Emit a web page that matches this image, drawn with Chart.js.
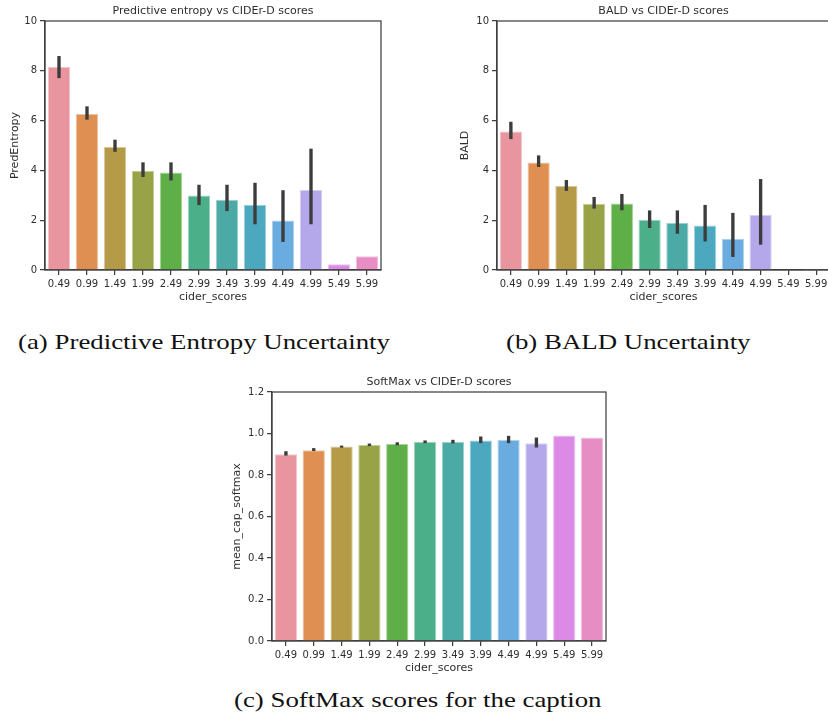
<!DOCTYPE html>
<html><head><meta charset="utf-8">
<script src="https://cdn.jsdelivr.net/npm/chart.js@4"></script>
<style>
html,body{margin:0;padding:0;width:828px;height:717px;overflow:hidden;background:#fff;position:relative}
canvas{position:absolute}
.cap{position:absolute;font-family:"Liberation Serif",serif;font-size:21px;line-height:21px;color:#111;white-space:nowrap;transform-origin:0 0}
</style></head><body>
<canvas id="ca" width="400" height="310" style="left:0;top:0"></canvas>
<canvas id="cb" width="400" height="310" style="left:452px;top:0"></canvas>
<canvas id="cc" width="410" height="309" style="left:210px;top:371px"></canvas>
<div class="cap" id="capa">(a) Predictive Entropy Uncertainty</div>
<div class="cap" id="capb">(b) BALD Uncertainty</div>
<div class="cap" id="capc">(c) SoftMax scores for the caption</div>
<script>
// ---- data ----
const ciderScores = ['0.49','0.99','1.49','1.99','2.49','2.99','3.49','3.99','4.49','4.99','5.49','5.99'];
const predEntropy     = [8.15, 6.27, 4.94, 3.99, 3.92, 2.99, 2.82, 2.62, 1.99, 3.21, 0.23, 0.55];
const predEntropyLow  = [7.72, 6.05, 4.76, 3.75, 3.61, 2.62, 2.38, 1.85, 1.14, 1.85, null, null];
const predEntropyHigh = [8.58, 6.56, 5.22, 4.31, 4.31, 3.41, 3.41, 3.49, 3.19, 4.86, null, null];
const bald     = [5.56, 4.32, 3.37, 2.66, 2.67, 2.02, 1.89, 1.79, 1.26, 2.21, 0, 0.05];
const baldLow  = [5.27, 4.15, 3.19, 2.48, 2.41, 1.70, 1.47, 1.16, 0.54, 1.03, null, null];
const baldHigh = [5.94, 4.59, 3.60, 2.92, 3.04, 2.38, 2.38, 2.60, 2.28, 3.64, null, null];
const softmax     = [0.900, 0.919, 0.937, 0.945, 0.950, 0.960, 0.960, 0.966, 0.969, 0.953, 0.990, 0.981];
const softmaxLow  = [0.895, 0.917, 0.933, 0.941, 0.945, 0.955, 0.954, 0.955, 0.955, 0.934, null, null];
const softmaxHigh = [0.913, 0.928, 0.940, 0.950, 0.956, 0.965, 0.968, 0.984, 0.987, 0.979, null, null];
const yTicksEntropy = [0, 2, 4, 6, 8, 10];
const yTicksBald = [0, 2, 4, 6, 8, 10];
const yTicksSoftmax = [0.0, 0.2, 0.4, 0.6, 0.8, 1.0, 1.2];

// ---- style ----
const barColors = ['#e8959f','#e08f52','#b59a48','#98a246','#5eaf48','#4baf8a','#4ba9a6','#4ca8be','#6aace0','#b5a8ea','#dd8ae6','#e68dc4'];
function lighten(hex, f){
  const n = parseInt(hex.slice(1),16);
  const r=(n>>16)&255,g=(n>>8)&255,b=n&255;
  const m=c=>Math.round(c+(255-c)*f);
  return 'rgb('+m(r)+','+m(g)+','+m(b)+')';
}
const edgeColors = barColors.map(c=>lighten(c,0.45));
const FONT = '"DejaVu Sans", sans-serif';
const TXT = '#2e2e2e';
const SPINE = '#404040';

const boxPlugin = {
  id:'box',
  afterDraw(chart){
    const {ctx, chartArea:a} = chart;
    ctx.save();
    ctx.strokeStyle = SPINE; ctx.lineWidth = 1.25;
    ctx.strokeRect(a.left, a.top, a.right-a.left, a.bottom-a.top);
    ctx.restore();
  }
};

function makeChart(id, cfg){
  const err = cfg.low.map((l,i)=> l==null ? null : [l, cfg.high[i]]);
  return new Chart(document.getElementById(id), {
    type:'bar',
    data:{
      labels: ciderScores,
      datasets:[
        {data: cfg.values, backgroundColor: barColors, borderColor: edgeColors, borderWidth: 1, borderSkipped: 'start',
         categoryPercentage: 1.0, barPercentage: 0.8, order: 1},
        {data: err, backgroundColor: '#3c3c3c', borderWidth: 0, barThickness: 2.7, grouped: false, order: 0}
      ]
    },
    options:{
      responsive:false, animation:false, devicePixelRatio:1,
      layout:{padding: cfg.pad},
      plugins:{
        legend:{display:false}, tooltip:{enabled:false},
        title:{display:true, text: cfg.title, fullSize:false, color:TXT,
          font:{family:FONT, size:11, weight:'normal', lineHeight:1.2}, padding:{top:4.4, bottom:3.4}}
      },
      scales:{
        x:{
          grid:{display:true, drawOnChartArea:false, drawTicks:true, tickLength:5, color:SPINE, lineWidth:1.25, offset:false},
          border:{display:true, color:SPINE, width:1.25},
          ticks:{color:TXT, font:{family:FONT, size:10}, padding:3, autoSkip:false, maxRotation:0},
          title:{display:true, text:'cider_scores', color:TXT, font:{family:FONT, size:11, lineHeight:1.2}, padding:{top:0,bottom:0}},
          afterFit: s=>{ s.height = 34; }
        },
        y:{
          min: cfg.yTicks[0], max: cfg.yTicks[cfg.yTicks.length-1],
          grid:{display:true, drawOnChartArea:false, drawTicks:true, tickLength:5, color:SPINE, lineWidth:1.25},
          border:{display:true, color:SPINE, width:1.25},
          afterBuildTicks: s=>{ s.ticks = cfg.yTicks.map(v=>({value:v})); },
          ticks:{color:TXT, font:{family:FONT, size:10}, padding:3, callback: v=> cfg.fmt(v)},
          title:{display:true, text: cfg.ylabel, color:TXT, font:{family:FONT, size:11, lineHeight:1.2}, padding:{top:cfg.ylabPad, bottom:0}},
          afterFit: s=>{ s.width = cfg.yWidth; }
        }
      }
    },
    plugins:[boxPlugin]
  });
}

makeChart('ca', {values: predEntropy, low: predEntropyLow, high: predEntropyHigh, yTicks: yTicksEntropy,
  title:'Predictive entropy vs CIDEr-D scores', ylabel:'PredEntropy', fmt: v=>String(Math.round(v)),
  pad:{left:0, right:19, top:0, bottom:6}, yWidth:45, ylabPad:9});
makeChart('cb', {values: bald, low: baldLow, high: baldHigh, yTicks: yTicksBald,
  title:'BALD vs CIDEr-D scores', ylabel:'BALD', fmt: v=>String(Math.round(v)),
  pad:{left:0, right:22, top:0, bottom:6}, yWidth:45, ylabPad:7});
makeChart('cc', {values: softmax, low: softmaxLow, high: softmaxHigh, yTicks: yTicksSoftmax,
  title:'SoftMax vs CIDEr-D scores', ylabel:'mean_cap_softmax', fmt: v=>Number(v).toFixed(1),
  pad:{left:0, right:14, top:0, bottom:5}, yWidth:62, ylabPad:21});

// captions: one common horizontal scale (derived from caption (a)) for all
const capA = document.getElementById('capa');
const capScale = 372 / capA.getBoundingClientRect().width;
function placeCap(id, cx, baseline){
  const el = document.getElementById(id);
  const w = el.getBoundingClientRect().width * capScale;
  el.style.left = (cx - w/2) + 'px';
  el.style.top = (baseline - 17.6) + 'px';
  el.style.transform = 'scaleX(' + capScale + ')';
}
placeCap('capa', 204, 350);
placeCap('capb', 628, 350);
placeCap('capc', 418, 708);
</script>
</body></html>
